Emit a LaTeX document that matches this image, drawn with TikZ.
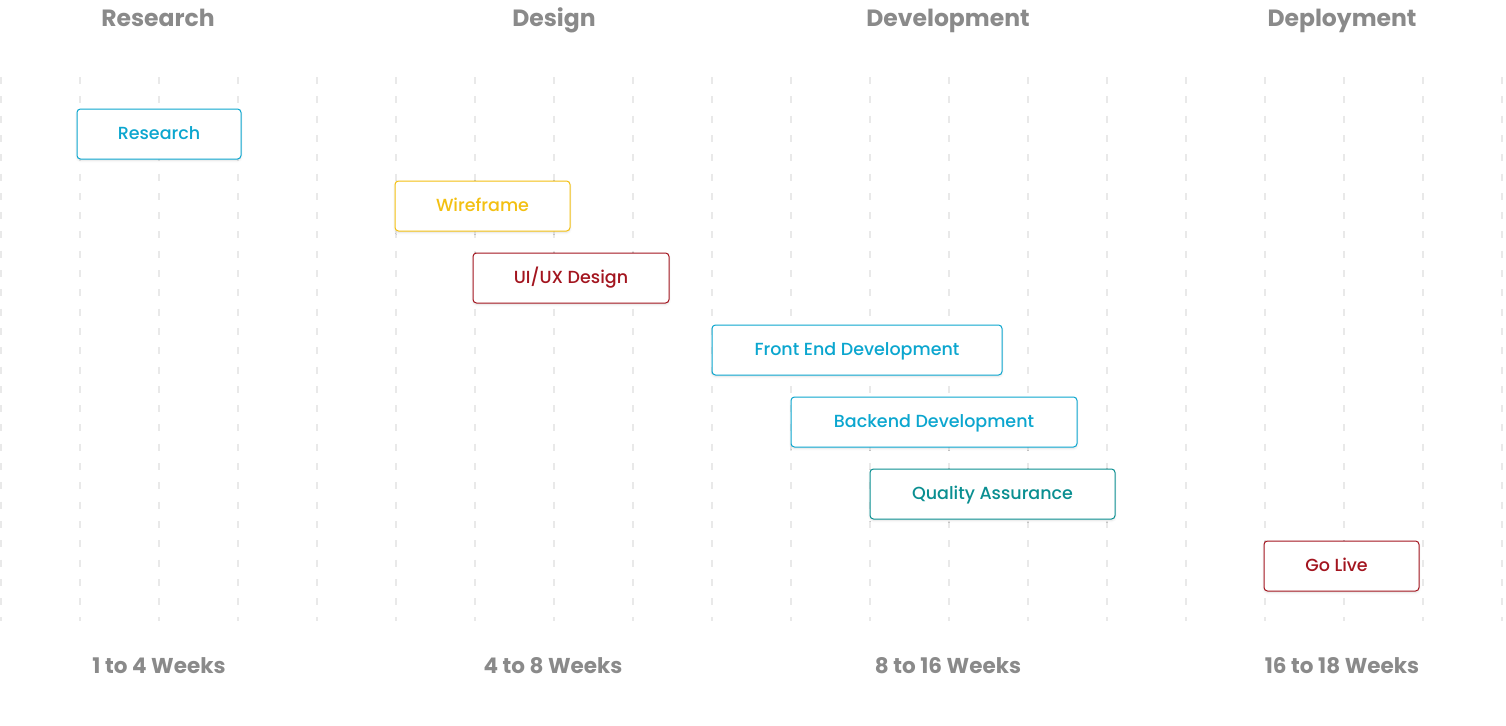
\documentclass[tikz,border=0pt]{standalone}
\usepackage{fontspec}
\setmainfont{Poppins}
\newfontfamily\popmed{Poppins Medium}
\usetikzlibrary{shadows.blur}
\definecolor{hdr}{HTML}{8A8A8A}
\definecolor{cyanb}{HTML}{0BA6CF}
\definecolor{yelb}{HTML}{F3C012}
\definecolor{redb}{HTML}{A3151F}
\definecolor{tealb}{HTML}{0A8F91}
\definecolor{gridc}{HTML}{E9E9E9}
\tikzset{
  taskbox/.style={draw=#1, text=#1, line width=1pt, rounded corners=3.5pt, fill=white,
    minimum height=50pt, inner sep=0pt, text height=13pt, text depth=3pt,
    font=\popmed\fontsize{17.5}{19}\selectfont,
    blur shadow={shadow xshift=0pt, shadow yshift=-1.5pt, shadow blur steps=6, shadow blur extra rounding=1pt, shadow opacity=12}},
  phase/.style={text=hdr, anchor=base, inner sep=0pt, font=\fontsize{23.5}{25}\selectfont\bfseries},
  weeks/.style={text=hdr, anchor=base, inner sep=0pt, font=\fontsize{21.5}{23}\selectfont\bfseries},
  gridline/.style={draw=gridc, line width=1.6pt, dash pattern=on 7pt off 12.3pt},
}
\begin{document}
\begin{tikzpicture}[x=1pt,y=-1pt]
\useasboundingbox (0,0) rectangle (1506,725);
\foreach \i in {0,...,19}{
  \draw[gridline] ({1+79*\i},77) -- ({1+79*\i},621);
}
\node[phase] (h1) at (158,27) {Research};
\node[phase] (h2) at (554,27) {Design};
\node[phase] (h3) at (948,27) {Development};
\node[phase] (h4) at (1342,27) {Deployment};

\node[weeks] (w1) at (159,673) {1 to 4 Weeks};
\node[weeks] (w2) at (553,673) {4 to 8 Weeks};
\node[weeks] (w3) at (948,673) {8 to 16 Weeks};
\node[weeks] (w4) at (1342,673) {16 to 18 Weeks};

\node[taskbox=cyanb, minimum width=164pt] (t1) at (159,134) {Research};
\node[taskbox=yelb, minimum width=175pt] (t2) at (482.5,206) {Wireframe};
\node[taskbox=redb, minimum width=196pt] (t3) at (571,278) {UI/UX Design};
\node[taskbox=cyanb, minimum width=290pt] (t4) at (857,350) {Front End Development};
\node[taskbox=cyanb, minimum width=286pt] (t5) at (934,422) {Backend Development};
\node[taskbox=tealb, minimum width=245pt] (t6) at (992.5,494) {Quality Assurance};
\node[taskbox=redb, minimum width=155pt] (t7) at (1341.5,566) {\hspace*{-10pt}Go Live};
\end{tikzpicture}
\end{document}
